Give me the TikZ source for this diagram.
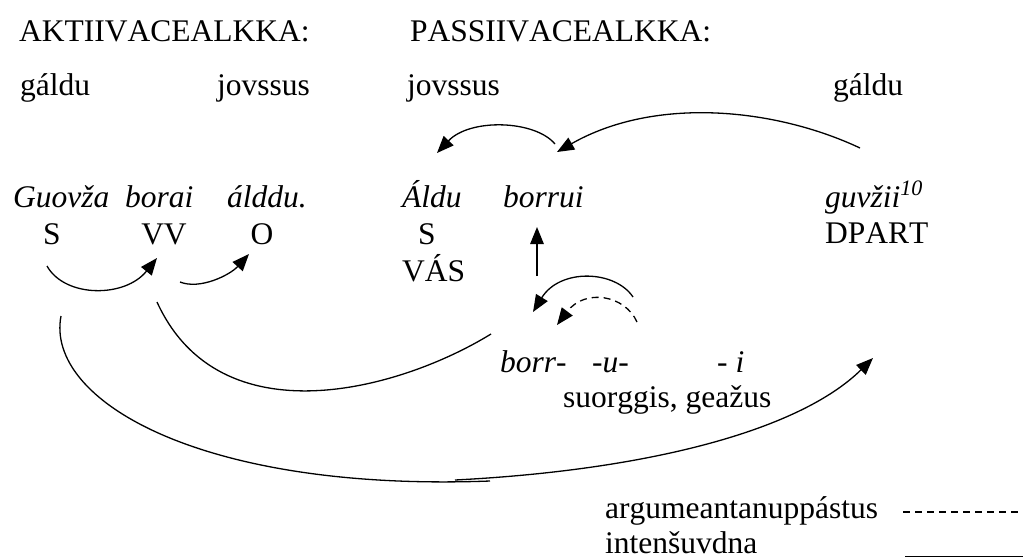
\documentclass[tikz,border=0pt]{standalone}
\usepackage{fontspec}
\setmainfont[Kerning=Off]{Liberation Serif}
\usetikzlibrary{arrows.meta}
\begin{document}
\begin{tikzpicture}[x=1pt,y=-1pt,
  txt/.style={inner sep=0pt,anchor=base west,font=\fontsize{31.5}{38}\selectfont},
  ctxt/.style={txt,anchor=base},
  it/.style={txt,font=\fontsize{31.5}{38}\selectfont\itshape},
  conn/.style={line width=1.3pt},
  arr/.style={conn,-{Triangle[length=17pt,width=13.5pt]}},
  dasharr/.style={arr,dash pattern=on 7pt off 5pt}]
\useasboundingbox (0,0) rectangle (1023,558);
% headings
\node[txt] (akt) at (19,41.5) {AKTIIVACEALKKA:};
\node[txt] (pas) at (410,41.5) {PASSIIVACEALKKA:};
\node[txt] (g1) at (20,95) {gáldu};
\node[txt] (j1) at (217,95) {jovssus};
\node[txt] (j2) at (407,95) {jovssus};
\node[txt] (g2) at (833,95) {gáldu};
% sentence rows
\node[it] (guovza) at (13,207) {Guovža};
\node[it] (borai) at (125,207) {borai};
\node[it] (allddu) at (227,207) {álddu.};
\node[it] (aldu) at (402,207) {Áldu};
\node[it] (borrui) at (503,207) {borrui};
\node[it] (guvzii) at (825,207) {guvžii\raisebox{2pt}{\textsuperscript{10}}};
\node[ctxt] (s1) at (52,244) {S};
\node[ctxt] (vv) at (164,244) {VV};
\node[ctxt] (o) at (262,244) {O};
\node[ctxt] (s2) at (427,244) {S};
\node[txt] (vas) at (402,281) {VÁS};
\node[txt] (dpart) at (825,243) {DPART};
\node[it] (borr) at (500,372) {borr-};
\node[it] (u) at (592,372) {-u-};
\node[it] (i) at (717,372) {- i};
\node[txt] (suorg) at (563,407) {suorggis, geažus};
\node[txt] (argu) at (605,518) {argumeantanuppástus};
\node[txt] (inten) at (605,553) {intenšuvdna};
% connector end points
\coordinate (a1) at (47,266);  \coordinate (a1t) at (157,258);
\coordinate (a2) at (180,282); \coordinate (a2t) at (249,254);
\coordinate (a3) at (157,302); \coordinate (a3e) at (491,334);
\coordinate (a4) at (61,316);  \coordinate (a4m) at (490,481);
\coordinate (a5) at (455,480); \coordinate (a5t) at (873,358);
\coordinate (a6) at (860,148); \coordinate (a6t) at (557,152);
\coordinate (a7) at (555,144); \coordinate (a7t) at (437,153);
\coordinate (a8) at (537,276); \coordinate (a8t) at (537,227);
\coordinate (a9) at (633,297); \coordinate (a9t) at (533,312);
\coordinate (a10) at (637,322); \coordinate (a10t) at (557,325);
\coordinate (d1) at (903,512); \coordinate (d2) at (1023,512);
\coordinate (l1) at (905,556.5); \coordinate (l2) at (1023,556.5);
% connectors
\draw[arr] (a1) .. controls (65,298) and (125,298) .. (a1t);
\draw[arr] (a2) .. controls (200,290) and (230,275) .. (a2t);
\draw[conn] (a3) .. controls (220,440) and (400,390) .. (a3e);
\draw[conn] (a4) .. controls (45,400) and (200,492) .. (a4m);
\draw[arr] (a5) .. controls (650,470) and (800,430) .. (a5t);
\draw[arr] (a6) .. controls (775,108) and (655,96) .. (a6t);
\draw[arr] (a7) .. controls (535,120) and (470,118) .. (a7t);
\draw[arr] (a8) -- (a8t);
\draw[arr] (a9) .. controls (615,270) and (560,268) .. (a9t);
\draw[dasharr] (a10) .. controls (625,295) and (585,288) .. (a10t);
% legend
\draw[conn,dash pattern=on 7pt off 5pt] (d1) -- (d2);
\draw[conn] (l1) -- (l2);
\end{tikzpicture}
\end{document}
